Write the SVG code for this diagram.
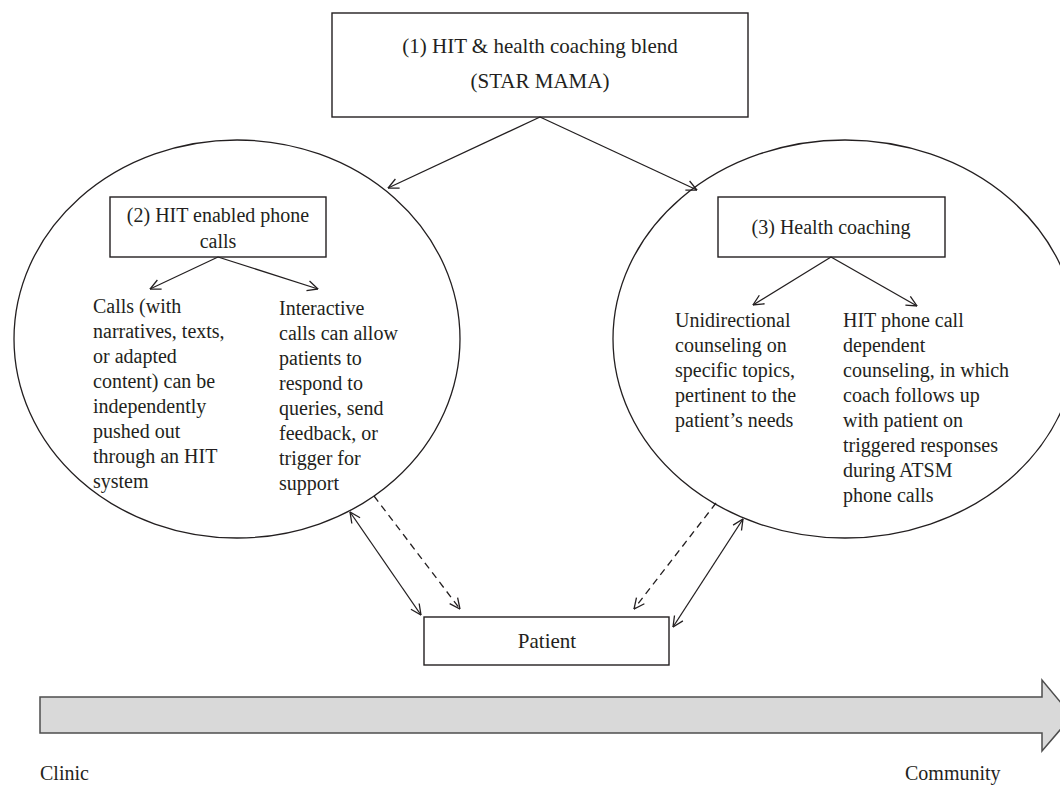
<svg xmlns="http://www.w3.org/2000/svg" width="1060" height="786" viewBox="0 0 1060 786">
<style>
  .box{fill:#fff;stroke:#231f20;stroke-width:1.4}
  .ell{fill:#fff;stroke:#231f20;stroke-width:1.3}
  .t{font-family:"Liberation Serif","Times New Roman",serif;font-size:20px;fill:#231f20}
  .tc{text-anchor:middle}
  .big{font-size:21px}
  .ln{fill:none;stroke:#231f20;stroke-width:1.3}
  .dash{stroke-dasharray:7,5}
  .bar{fill:#d9d9d9;stroke:#4d4d4d;stroke-width:1.5}
</style>
<defs>
  <marker id="ah" viewBox="0 0 12 12" markerWidth="12" markerHeight="12" refX="11.5" refY="6" orient="auto-start-reverse" markerUnits="userSpaceOnUse">
    <path d="M1,1 L11.5,6 L1,11" fill="none" stroke="#231f20" stroke-width="1.3"/>
  </marker>
</defs>
<rect width="1060" height="786" fill="#fff"/>

<g id="node-ellipse-left">
  <ellipse class="ell" cx="237" cy="339" rx="223" ry="199"/>
</g>
<g id="node-ellipse-right">
  <ellipse class="ell" cx="845" cy="339" rx="232" ry="199"/>
</g>

<g id="node-blend">
  <rect class="box" x="332" y="13" width="416" height="104"/>
  <text class="t tc big" x="540" y="53">(1) HIT &amp; health coaching blend</text>
  <text class="t tc big" x="540" y="88">(STAR MAMA)</text>
</g>

<g id="node-hit-calls">
  <rect class="box" x="110" y="197" width="216" height="60"/>
  <text class="t tc" x="218" y="222">(2) HIT enabled phone</text>
  <text class="t tc" x="218" y="248">calls</text>
</g>

<g id="node-hit-text-left">
  <text class="t" x="93" y="313">Calls (with</text>
  <text class="t" x="93" y="338">narratives, texts,</text>
  <text class="t" x="93" y="363">or adapted</text>
  <text class="t" x="93" y="388">content) can be</text>
  <text class="t" x="93" y="413">independently</text>
  <text class="t" x="93" y="438">pushed out</text>
  <text class="t" x="93" y="463">through an HIT</text>
  <text class="t" x="93" y="488">system</text>
</g>

<g id="node-hit-text-right">
  <text class="t" x="279" y="315">Interactive</text>
  <text class="t" x="279" y="340">calls can allow</text>
  <text class="t" x="279" y="365">patients to</text>
  <text class="t" x="279" y="390">respond to</text>
  <text class="t" x="279" y="415">queries, send</text>
  <text class="t" x="279" y="440">feedback, or</text>
  <text class="t" x="279" y="465">trigger for</text>
  <text class="t" x="279" y="490">support</text>
</g>

<g id="node-coaching">
  <rect class="box" x="718" y="197" width="227" height="60"/>
  <text class="t tc" x="831" y="234">(3) Health coaching</text>
</g>

<g id="node-coach-text-left">
  <text class="t" x="675" y="327">Unidirectional</text>
  <text class="t" x="675" y="352">counseling on</text>
  <text class="t" x="675" y="377">specific topics,</text>
  <text class="t" x="675" y="402">pertinent to the</text>
  <text class="t" x="675" y="427">patient’s needs</text>
</g>

<g id="node-coach-text-right">
  <text class="t" x="843" y="327">HIT phone call</text>
  <text class="t" x="843" y="352">dependent</text>
  <text class="t" x="843" y="377">counseling, in which</text>
  <text class="t" x="843" y="402">coach follows up</text>
  <text class="t" x="843" y="427">with patient on</text>
  <text class="t" x="843" y="452">triggered responses</text>
  <text class="t" x="843" y="477">during ATSM</text>
  <text class="t" x="843" y="502">phone calls</text>
</g>

<g id="node-patient">
  <rect class="box" x="424" y="617" width="245" height="48"/>
  <text class="t tc big" x="547" y="648">Patient</text>
</g>

<g id="connectors">
  <line class="ln" x1="540" y1="117" x2="388" y2="188" marker-end="url(#ah)"/>
  <line class="ln" x1="540" y1="117" x2="697" y2="190" marker-end="url(#ah)"/>
  <line class="ln" x1="218" y1="257" x2="150" y2="289" marker-end="url(#ah)"/>
  <line class="ln" x1="218" y1="257" x2="318" y2="289" marker-end="url(#ah)"/>
  <line class="ln" x1="831" y1="257" x2="753" y2="305" marker-end="url(#ah)"/>
  <line class="ln" x1="831" y1="257" x2="917" y2="306" marker-end="url(#ah)"/>
  <line class="ln" x1="350" y1="512" x2="421" y2="615" marker-start="url(#ah)" marker-end="url(#ah)"/>
  <line class="ln dash" x1="374" y1="496" x2="460" y2="609" marker-end="url(#ah)"/>
  <line class="ln dash" x1="716" y1="503" x2="634" y2="609" marker-end="url(#ah)"/>
  <line class="ln" x1="743" y1="519" x2="673" y2="627" marker-start="url(#ah)" marker-end="url(#ah)"/>
</g>

<g id="timeline">
  <polygon class="bar" points="40,697 1042,697 1042,680 1072,716 1042,751 1042,733 40,733"/>
  <text class="t" x="40" y="780">Clinic</text>
  <text class="t" x="905" y="780">Community</text>
</g>
</svg>
